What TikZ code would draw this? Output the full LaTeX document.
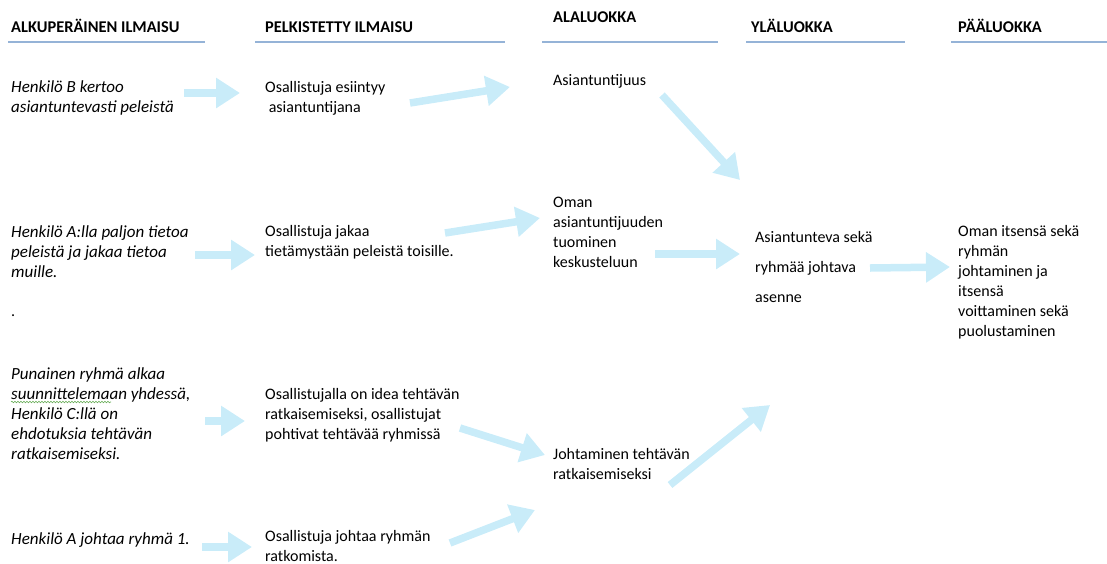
\documentclass[tikz,border=0pt]{standalone}
\usepackage{fontspec}
\setmainfont{Carlito}
\usetikzlibrary{positioning,arrows.meta,decorations.pathmorphing}
\definecolor{flowblue}{HTML}{C9ECF9}
\definecolor{ruleblue}{HTML}{95B3D7}
\definecolor{spellgreen}{HTML}{6AAE5A}
\begin{document}
\begin{tikzpicture}[x=1pt,y=-1pt,
      colhead/.style={anchor=base west, inner sep=0pt, font=\fontsize{16.4}{18}\selectfont\bfseries},
      entry/.style={anchor=base west, inner sep=0pt, align=left, font=\fontsize{16}{20}\selectfont},
      quote/.style={entry, font=\fontsize{17}{20}\selectfont\itshape},
      wide/.style={entry, font=\fontsize{16}{30}\selectfont},
      headrule/.style={draw=ruleblue, line width=1.5pt},
      flow/.style={draw=flowblue, line width=7.5pt, -{Triangle[length=24pt,width=29pt]}}
    ]
    \useasboundingbox (0,0) rectangle (1107,563);

    \node[colhead] (hAlk) at (11,32) {ALKUPERÄINEN ILMAISU};
    \node[colhead] (hPel) at (265,32) {PELKISTETTY ILMAISU};
    \node[colhead] (hAla) at (553,22) {ALALUOKKA};
    \node[colhead] (hYla) at (751,32) {YLÄLUOKKA};
    \node[colhead] (hPaa) at (958,32) {PÄÄLUOKKA};
    \draw[headrule] (8,42) -- (205,42);
    \draw[headrule] (255,42) -- (505,42);
    \draw[headrule] (542,42) -- (718,42);
    \draw[headrule] (746,42) -- (905,42);
    \draw[headrule] (951,42) -- (1107,42);

    % multi-line nodes sit on the baseline of their last line
    \node[quote] (alk1) at (11,112) {Henkilö B kertoo\\asiantuntevasti peleistä};
    \node[quote] (alk2) at (11,277) {Henkilö A:lla paljon tietoa\\peleistä ja jakaa tietoa\\muille.};
    \node[entry] (dot) at (11,316) {.};
    \node[quote] (alk3) at (11,459) {Punainen ryhmä alkaa\\suunnittelemaan yhdessä,\\Henkilö C:llä on\\ehdotuksia tehtävän\\ratkaisemiseksi.};
    \node[quote] (alk4) at (11,544) {Henkilö A johtaa ryhmä 1.};

    \node[entry] (pel1) at (265,112) {Osallistuja esiintyy\\\ asiantuntijana};
    \node[entry] (pel2) at (265,256) {Osallistuja jakaa\\tietämystään peleistä toisille.};
    \node[entry] (pel3) at (265,439) {Osallistujalla on idea tehtävän\\ratkaisemiseksi, osallistujat\\pohtivat tehtävää ryhmissä};
    \node[entry] (pel4) at (265,561) {Osallistuja johtaa ryhmän\\ratkomista.};

    \node[entry] (ala1) at (553,85) {Asiantuntijuus};
    \node[entry] (ala2) at (553,267) {Oman\\asiantuntijuuden\\tuominen\\keskusteluun};
    \node[entry] (ala3) at (553,479) {Johtaminen tehtävän\\ratkaisemiseksi};

    \node[wide] (yla) at (755,302) {Asiantunteva sekä\\ryhmää johtava\\asenne};

    \node[entry] (paa) at (958,336) {Oman itsensä sekä\\ryhmän\\johtaminen ja\\itsensä\\voittaminen sekä\\puolustaminen};

    \draw[spellgreen, line width=0.6pt, decorate, decoration={snake, amplitude=0.8pt, segment length=3pt}]
      ([yshift=57pt]alk3.base west) -- ++(100,0);

    \coordinate (a1s) at (184,93);  \coordinate (a1e) at (240,93);
    \coordinate (a2s) at (410,103); \coordinate (a2e) at (510,87);
    \coordinate (a3s) at (662,95);  \coordinate (a3e) at (740,180);
    \coordinate (a4s) at (195,255); \coordinate (a4e) at (255,255);
    \coordinate (a5s) at (445,233); \coordinate (a5e) at (540,218);
    \coordinate (a6s) at (655,254); \coordinate (a6e) at (740,254);
    \coordinate (a7s) at (870,268); \coordinate (a7e) at (950,267);
    \coordinate (a8s) at (205,421); \coordinate (a8e) at (245,421);
    \coordinate (a9s) at (460,428); \coordinate (a9e) at (545,455);
    \coordinate (a10s) at (670,485); \coordinate (a10e) at (770,405);
    \coordinate (a11s) at (202,547); \coordinate (a11e) at (252,547);
    \coordinate (a12s) at (450,543); \coordinate (a12e) at (535,510);

    \draw[flow] (a1s) -- (a1e);
    \draw[flow] (a2s) -- (a2e);
    \draw[flow] (a3s) -- (a3e);
    \draw[flow] (a4s) -- (a4e);
    \draw[flow] (a5s) -- (a5e);
    \draw[flow] (a6s) -- (a6e);
    \draw[flow] (a7s) -- (a7e);
    \draw[flow] (a8s) -- (a8e);
    \draw[flow] (a9s) -- (a9e);
    \draw[flow] (a10s) -- (a10e);
    \draw[flow] (a11s) -- (a11e);
    \draw[flow] (a12s) -- (a12e);
  \end{tikzpicture}
\end{document}
